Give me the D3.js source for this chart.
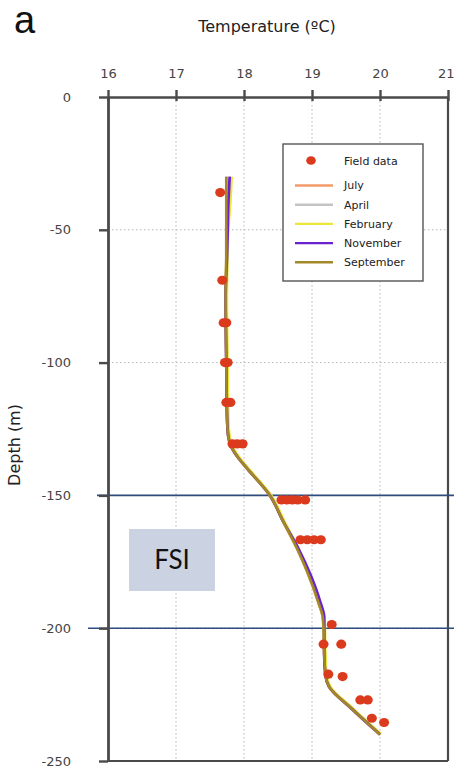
<!DOCTYPE html>
<html>
<head>
<meta charset="utf-8">
<script src="https://cdn.jsdelivr.net/npm/d3@7/dist/d3.min.js"></script>
<style>
  html, body { margin: 0; padding: 0; background: #fff; }
  svg { display: block; }
</style>
</head>
<body>
<svg id="chart" width="454" height="770"></svg>
<script>
// Temperature profile with depth: measured points and modelled monthly profiles.
const tempTicks = [16, 17, 18, 19, 20, 21];
const depthTicks = [0, -50, -100, -150, -200, -250];
const gridTemps = [17, 18, 19, 20];
const gridDepths = [-50, -100, -150, -200];
const boundaryDepths = [-150, -200];

// Field measurements (temperature °C, depth m)
const fieldTemp = [17.65, 17.68, 17.70, 17.74, 17.72, 17.76, 17.74, 17.80,
                   17.83, 17.90, 17.98,
                   18.55, 18.63, 18.71, 18.79, 18.90,
                   18.83, 18.93, 19.03, 19.13,
                   19.29, 19.17, 19.43, 19.24, 19.45,
                   19.71, 19.82, 19.88, 20.06];
const fieldDepth = [-36, -69, -85, -85, -100, -100, -115, -115,
                    -130.6, -130.6, -130.6,
                    -151.7, -151.7, -151.7, -151.7, -151.7,
                    -166.7, -166.7, -166.7, -166.7,
                    -198.6, -206, -206, -217.3, -218.2,
                    -227, -227, -233.9, -235.5];

// Modelled profiles share the same depth levels
const profileDepth = [-30, -40, -50, -60, -75, -100, -120, -128, -132, -136, -140,
                      -150, -160, -170, -180, -190, -196, -200, -210, -218, -222, -230, -240];
const julyTemp      = [17.74, 17.74, 17.74, 17.74, 17.73, 17.74, 17.75, 17.77, 17.82, 17.92, 18.05,
                       18.38, 18.58, 18.78, 18.95, 19.09, 19.16, 19.17, 19.18, 19.20, 19.25, 19.57, 20.00];
const aprilTemp     = [17.75, 17.75, 17.74, 17.74, 17.73, 17.74, 17.75, 17.77, 17.82, 17.92, 18.05,
                       18.38, 18.58, 18.78, 18.95, 19.09, 19.16, 19.17, 19.18, 19.20, 19.25, 19.57, 20.00];
const februaryTemp  = [17.81, 17.79, 17.76, 17.75, 17.74, 17.75, 17.76, 17.78, 17.83, 17.93, 18.06,
                       18.39, 18.59, 18.79, 18.96, 19.10, 19.17, 19.18, 19.19, 19.21, 19.26, 19.58, 20.01];
const novemberTemp  = [17.79, 17.77, 17.76, 17.75, 17.73, 17.74, 17.75, 17.77, 17.82, 17.92, 18.05,
                       18.38, 18.58, 18.80, 18.98, 19.12, 19.18, 19.18, 19.18, 19.20, 19.25, 19.57, 20.00];
const septemberTemp = [17.74, 17.74, 17.74, 17.74, 17.73, 17.74, 17.75, 17.77, 17.82, 17.92, 18.05,
                       18.38, 18.58, 18.78, 18.95, 19.09, 19.16, 19.17, 19.18, 19.20, 19.25, 19.57, 20.00];

const seriesNames = ["July", "April", "February", "November", "September"];
const seriesTemps = [julyTemp, aprilTemp, februaryTemp, novemberTemp, septemberTemp];
const seriesColors = ["#f29a68", "#c4c4c4", "#ece63a", "#6a22d0", "#a3882a"];
const seriesWidths = [2.8, 2.8, 3.8, 2.8, 2.6];

const svg = d3.select("#chart");

const x = d3.scaleLinear().domain([16, 21]).range([108, 448]);
const y = d3.scaleLinear().domain([0, -250]).range([97, 761]);

const axisColor = "#4a4a4a";
const labelFont = "DejaVu Sans, Verdana, sans-serif";
const plainNumber = d => String(d);

// Dotted gridlines
svg.append("g").selectAll("line").data(gridTemps).join("line")
  .attr("x1", d => x(d)).attr("x2", d => x(d))
  .attr("y1", y(0)).attr("y2", y(-250))
  .attr("stroke", "#b5b5b5").attr("stroke-width", 1).attr("stroke-dasharray", "1.5,2.5");
svg.append("g").selectAll("line").data(gridDepths).join("line")
  .attr("x1", x(16)).attr("x2", x(21))
  .attr("y1", d => y(d)).attr("y2", d => y(d))
  .attr("stroke", "#b5b5b5").attr("stroke-width", 1).attr("stroke-dasharray", "1.5,2.5");

// Frame (right and bottom)
svg.append("line").attr("x1", x(21)).attr("x2", x(21)).attr("y1", y(0)).attr("y2", y(-250))
  .attr("stroke", axisColor).attr("stroke-width", 2.2);
svg.append("line").attr("x1", x(16)).attr("x2", x(21)).attr("y1", y(-250)).attr("y2", y(-250))
  .attr("stroke", axisColor).attr("stroke-width", 2.2);

// FSI zone label
svg.append("rect")
  .attr("x", 129).attr("y", 529).attr("width", 86).attr("height", 62)
  .attr("fill", "#cbd3e2");
svg.append("text")
  .attr("x", 172).attr("y", 560).attr("dy", "0.36em")
  .attr("text-anchor", "middle")
  .attr("font-family", "Lato, 'Open Sans', sans-serif").attr("font-size", 26)
  .attr("fill", "#111").text("FSI");

// Boundary lines at -150 m and -200 m
svg.append("g").selectAll("line").data(boundaryDepths).join("line")
  .attr("x1", (d, i) => i === 0 ? 97 : 88).attr("x2", 454)
  .attr("y1", d => y(d)).attr("y2", d => y(d))
  .attr("stroke", "#2f4c7e").attr("stroke-width", 1.6);

// Top axis
const topAxis = svg.append("g")
  .attr("transform", `translate(0,${y(0)})`)
  .call(d3.axisTop(x).tickValues(tempTicks).tickFormat(plainNumber)
        .tickSizeInner(7).tickSizeOuter(0).tickPadding(12));
topAxis.select(".domain").attr("stroke", axisColor).attr("stroke-width", 2.4);
topAxis.selectAll(".tick line").attr("stroke", axisColor).attr("stroke-width", 2.4).attr("y2", -7).attr("y1", 4);
topAxis.selectAll(".tick text").attr("font-family", labelFont).attr("font-size", 13).attr("fill", "#444");
// keep the last label inside the page edge
topAxis.selectAll(".tick text").filter(d => d === 21)
  .attr("text-anchor", "end").attr("x", 6);

// Left axis
const leftAxis = svg.append("g")
  .attr("transform", `translate(${x(16)},0)`)
  .call(d3.axisLeft(y).tickValues(depthTicks).tickFormat(plainNumber)
        .tickSizeInner(9).tickSizeOuter(0).tickPadding(28));
leftAxis.select(".domain").attr("stroke", axisColor).attr("stroke-width", 2.8);
leftAxis.selectAll(".tick line").attr("stroke", axisColor).attr("stroke-width", 2.4);
leftAxis.selectAll(".tick text").attr("font-family", labelFont).attr("font-size", 13).attr("fill", "#444");

// Modelled profiles
const line = d3.line()
  .x(d => x(d[0]))
  .y(d => y(d[1]))
  .curve(d3.curveMonotoneY);

const profiles = svg.append("g");
seriesNames.forEach((name, i) => {
  const pts = profileDepth.map((dep, k) => [seriesTemps[i][k], dep]);
  profiles.append("path")
    .datum(pts)
    .attr("d", line)
    .attr("fill", "none")
    .attr("stroke", seriesColors[i])
    .attr("stroke-width", seriesWidths[i])
    .attr("stroke-linejoin", "round");
});

// Field data points
const fieldColor = "#dc3a1d";
svg.append("g").selectAll("ellipse")
  .data(fieldTemp.map((t, i) => [t, fieldDepth[i]]))
  .join("ellipse")
  .attr("cx", d => x(d[0])).attr("cy", d => y(d[1]))
  .attr("rx", 5).attr("ry", 4.6)
  .attr("fill", fieldColor);

// Legend
const legend = svg.append("g");
legend.append("rect")
  .attr("x", 283).attr("y", 144).attr("width", 140).attr("height", 137)
  .attr("fill", "#fff").attr("stroke", "#555").attr("stroke-width", 1.4);
legend.append("ellipse")
  .attr("cx", 311).attr("cy", 160.5).attr("rx", 4.8).attr("ry", 4.3)
  .attr("fill", fieldColor);
legend.append("text")
  .attr("x", 344).attr("y", 161).attr("dy", "0.35em")
  .attr("font-family", labelFont).attr("font-size", 11).attr("fill", "#222")
  .text("Field data");
seriesNames.forEach((name, i) => {
  const ly = 185.5 + i * 19.2;
  legend.append("line")
    .attr("x1", 295).attr("x2", 333).attr("y1", ly).attr("y2", ly)
    .attr("stroke", seriesColors[i]).attr("stroke-width", 2.4);
  legend.append("text")
    .attr("x", 344).attr("y", ly).attr("dy", "0.35em")
    .attr("font-family", labelFont).attr("font-size", 11).attr("fill", "#222")
    .text(name);
});

// Titles
svg.append("text")
  .attr("x", 14).attr("y", 33)
  .attr("font-family", "Liberation Sans, Arial, sans-serif").attr("font-size", 38)
  .attr("fill", "#111").text("a");
svg.append("text")
  .attr("x", 267).attr("y", 32).attr("text-anchor", "middle")
  .attr("font-family", labelFont).attr("font-size", 16)
  .attr("fill", "#222").text("Temperature (ºC)");
svg.append("text")
  .attr("transform", "translate(20,445) rotate(-90)")
  .attr("text-anchor", "middle")
  .attr("font-family", labelFont).attr("font-size", 16)
  .attr("fill", "#222").text("Depth (m)");
</script>
</body>
</html>
